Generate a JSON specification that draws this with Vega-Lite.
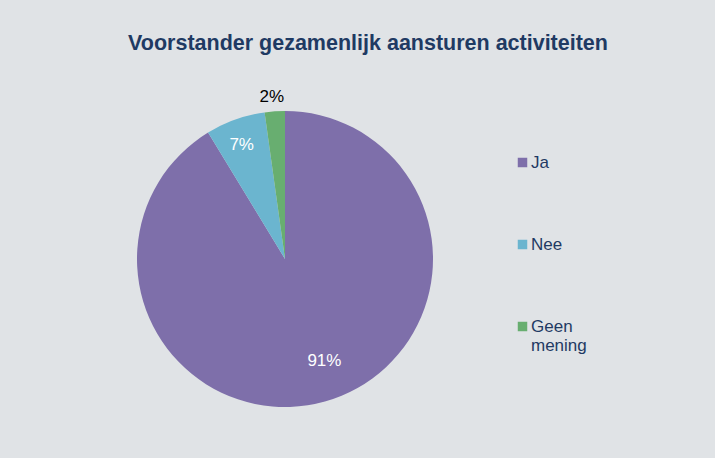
{
  "$schema": "https://vega.github.io/schema/vega-lite/v6.json",
  "width": 570,
  "height": 398,
  "autosize": "none",
  "padding": {"left": 0, "top": 60, "right": 145, "bottom": 0},
  "background": "#e0e3e6",
  "view": {"stroke": null},
  "title": {
    "text": "Voorstander gezamenlijk aansturen activiteiten",
    "font": "Liberation Sans",
    "fontSize": 21.5,
    "fontWeight": "bold",
    "color": "#1f3a63",
    "anchor": "middle",
    "dx": 83,
    "offset": 6
  },
  "data": {
    "values": [
      {"cat": "Ja", "value": 91.3, "label": "91%", "ord": 1},
      {"cat": "Nee", "value": 6.5, "label": "7%", "ord": 2},
      {"cat": "Geen mening", "value": 2.2, "label": "2%", "ord": 3}
    ]
  },
  "encoding": {
    "theta": {"field": "value", "type": "quantitative", "stack": true},
    "order": {"field": "ord", "type": "quantitative"}
  },
  "layer": [
    {
      "mark": {"type": "arc", "outerRadius": 148, "stroke": null},
      "encoding": {
        "color": {
          "field": "cat",
          "type": "nominal",
          "scale": {"domain": ["Ja", "Nee", "Geen mening"], "range": ["#7e6faa", "#6bb5cf", "#68ae70"]},
          "legend": {
            "orient": "none",
            "legendX": 514,
            "legendY": 94,
            "title": null,
            "symbolType": "square",
            "symbolSize": 90,
            "symbolStrokeWidth": 0,
            "labelFontSize": 17,
            "labelFont": "Liberation Sans",
            "labelColor": "#1f3a63",
            "labelLineHeight": 21,
            "rowPadding": 64,
            "labelOffset": 0,
            "labelExpr": "datum.label == 'Geen mening' ? ['Geen', 'mening'] : datum.label"
          }
        }
      }
    },
    {
      "mark": {"type": "text", "radius": 109, "dx": 10, "dy": -3, "font": "Liberation Sans", "fontSize": 17, "color": "white"},
      "encoding": {
        "text": {"condition": {"test": "datum.cat == 'Ja'", "field": "label"}, "value": ""}
      }
    },
    {
      "mark": {"type": "text", "radius": 123, "dx": -2, "dy": 2, "font": "Liberation Sans", "fontSize": 17, "color": "white"},
      "encoding": {
        "text": {"condition": {"test": "datum.cat == 'Nee'", "field": "label"}, "value": ""}
      }
    },
    {
      "mark": {"type": "text", "radius": 163, "dx": -2, "dy": 1, "font": "Liberation Sans", "fontSize": 17, "color": "black"},
      "encoding": {
        "text": {"condition": {"test": "datum.cat == 'Geen mening'", "field": "label"}, "value": ""}
      }
    }
  ]
}
